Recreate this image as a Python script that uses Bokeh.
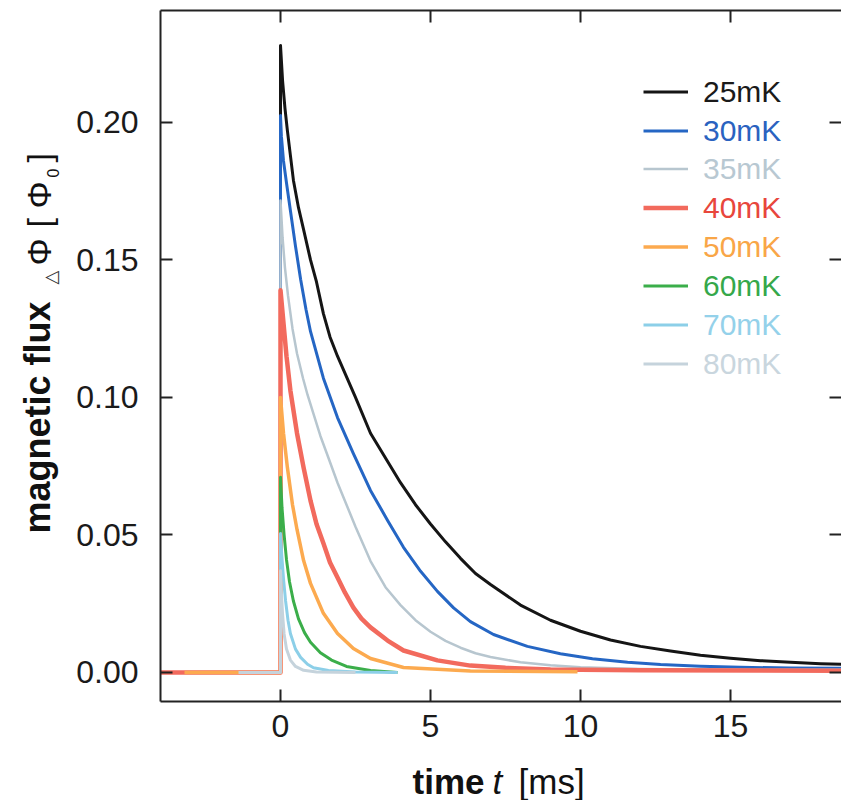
import numpy as np
from bokeh.plotting import figure
from bokeh.layouts import row, column
from bokeh.models import (Range1d, FixedTicker, LinearAxis, Legend, LegendItem,
                          Label, PrintfTickFormatter)
from bokeh.embed import file_html
from bokeh.resources import INLINE

# ---- flux response after the heat pulse, one trace per bath temperature ----
temps = ["25mK", "30mK", "35mK", "40mK", "50mK", "60mK", "70mK", "80mK"]

t_25 = [-4.0, 0.0, 0.0, 0.07, 0.15, 0.23, 0.33, 0.43, 0.6, 0.77, 1.0, 1.2, 1.43, 1.65, 1.9,
        2.5, 3.0, 3.5, 4.0, 4.5, 5.0, 5.5, 6.0, 6.5, 7.0, 8.0, 9.0, 10.0, 11.0, 12.0, 13.0,
        14.0, 15.0, 16.0, 17.0, 18.0, 18.7]
phi_25 = [0.0, 0.0, 0.228, 0.215, 0.205, 0.197, 0.188, 0.179, 0.169, 0.161, 0.150, 0.142,
          0.1305, 0.122, 0.115, 0.100, 0.087, 0.078, 0.069, 0.061, 0.054, 0.0475, 0.0415,
          0.036, 0.032, 0.0245, 0.019, 0.015, 0.0118, 0.0095, 0.0078, 0.0063, 0.0052,
          0.0043, 0.0037, 0.0032, 0.003]

t_30 = [-4.0, 0.0, 0.0, 0.03, 0.1, 0.2, 0.33, 0.5, 0.67, 0.85, 1.0, 1.43, 1.9, 2.43, 3.0,
        3.57, 4.1, 4.67, 5.23, 5.77, 6.33, 7.1, 8.23, 9.33, 10.4, 11.57, 12.67, 14.0, 15.33,
        17.0, 18.7]
phi_30 = [0.0, 0.0, 0.2025, 0.195, 0.186, 0.178, 0.168, 0.155, 0.143, 0.132, 0.124, 0.107,
          0.0927, 0.0796, 0.0662, 0.0553, 0.0455, 0.0368, 0.0295, 0.0235, 0.0185, 0.0138,
          0.0095, 0.0068, 0.005, 0.0037, 0.0029, 0.0023, 0.0019, 0.0016, 0.0015]

t_35 = [-4.0, 0.0, 0.0, 0.07, 0.15, 0.25, 0.4, 0.55, 0.75, 0.9, 1.1, 1.33, 1.6, 1.9, 2.2,
        2.5, 3.0, 3.5, 4.0, 4.5, 5.0, 5.5, 6.0, 6.5, 7.0, 8.0, 9.0, 10.0, 12.0, 15.0, 18.7]
phi_35 = [0.0, 0.0, 0.1716, 0.158, 0.147, 0.137, 0.125, 0.116, 0.107, 0.101, 0.094, 0.086,
          0.078, 0.069, 0.061, 0.053, 0.0405, 0.031, 0.0245, 0.019, 0.0148, 0.0115, 0.009,
          0.007, 0.0056, 0.0037, 0.0026, 0.0019, 0.0013, 0.001, 0.001]

t_40 = [-4.0, 0.0, 0.0, 0.1, 0.2, 0.33, 0.55, 0.77, 1.0, 1.2, 1.43, 1.65, 1.9, 2.15, 2.43,
        2.7, 3.0, 3.57, 4.1, 5.23, 6.33, 7.5, 9.0, 12.0, 18.7]
phi_40 = [0.0, 0.0, 0.139, 0.127, 0.115, 0.1025, 0.087, 0.0745, 0.0625, 0.054, 0.047, 0.040,
          0.0345, 0.029, 0.0236, 0.0196, 0.0164, 0.0116, 0.008, 0.0044, 0.0025, 0.0017,
          0.0011, 0.0008, 0.0006]

t_50 = [-3.2, 0.0, 0.0, 0.1, 0.23, 0.4, 0.55, 0.77, 1.0, 1.43, 1.9, 2.43, 3.0, 4.1, 6.33, 9.9]
phi_50 = [0.0, 0.0, 0.100, 0.087, 0.0745, 0.061, 0.052, 0.0407, 0.0324, 0.0215, 0.0142,
          0.0087, 0.0051, 0.0018, 0.0005, 0.0003]

t_60 = [0.0, 0.0, 0.05, 0.12, 0.2, 0.3, 0.43, 0.6, 0.8, 1.0, 1.33, 1.7, 2.2, 3.0, 3.9]
phi_60 = [0.0, 0.071, 0.060, 0.050, 0.041, 0.033, 0.026, 0.0195, 0.0145, 0.011, 0.0072,
          0.0045, 0.0022, 0.0007, 0.0]

t_70 = [0.0, 0.0, 0.04, 0.1, 0.17, 0.25, 0.33, 0.5, 0.67, 0.9, 1.1, 1.6, 2.5, 3.9]
phi_70 = [0.0, 0.0505, 0.043, 0.034, 0.026, 0.019, 0.0142, 0.0085, 0.0055, 0.003, 0.0017,
          0.0007, 0.0002, 0.0]

t_80 = [-1.4, 0.0, 0.0, 0.03, 0.07, 0.12, 0.2, 0.33, 0.5, 0.77, 1.2, 2.5]
phi_80 = [0.0, 0.0, 0.037, 0.029, 0.021, 0.014, 0.0085, 0.0045, 0.0022, 0.0008, 0.0002, 0.0]

times = [t_25, t_30, t_35, t_40, t_50, t_60, t_70, t_80]
fluxes = [phi_25, phi_30, phi_35, phi_40, phi_50, phi_60, phi_70, phi_80]

line_colors = ["#151515", "#2566c4", "#b7c6cf", "#f26a5d", "#fcaa4f", "#3bae4a", "#8ccfe8", "#c5d3dc"]
text_colors = ["#1a1a1a", "#2a62c0", "#b8c8d2", "#e8463c", "#f9a647", "#35a84a", "#94d1ea", "#c9d6de"]
line_widths = [3, 3, 2.5, 4.5, 3.5, 3, 3, 3]

x_ticks = [0, 5, 10, 15]
y_ticks = [0.0, 0.05, 0.10, 0.15, 0.20]

FONT = "Liberation Sans"
INK = "#222222"
TXT = "#111111"

# ---------------- main panel ----------------
p = figure(width=779, height=760, output_backend="svg", toolbar_location=None,
           x_range=Range1d(-4.0, 18.7), y_range=Range1d(-0.01055, 0.2407),
           x_axis_location=None, y_axis_location=None, align="start",
           min_border_left=98, min_border_right=0, min_border_top=10, min_border_bottom=59)
p.outline_line_color = None
p.xgrid.visible = False
p.ygrid.visible = False


def make_axis(ticks, show_labels, fmt=None, line=True):
    ax = LinearAxis(ticker=FixedTicker(ticks=ticks))
    ax.major_tick_in = 12
    ax.major_tick_out = 0
    ax.minor_tick_in = 0
    ax.minor_tick_out = 0
    ax.major_tick_line_width = 2
    ax.major_tick_line_color = INK
    ax.axis_line_width = 2
    ax.axis_line_color = INK if line else None
    if fmt is not None:
        ax.formatter = fmt
    if show_labels:
        ax.major_label_text_font = FONT
        ax.major_label_text_font_size = "32px"
        ax.major_label_text_color = "#1a1a1a"
    else:
        ax.major_label_text_font_size = "0px"
        ax.major_label_standoff = 0
    return ax


bottom = make_axis(x_ticks, True)
bottom.major_label_standoff = 13
left = make_axis(y_ticks, True, PrintfTickFormatter(format="%.2f"))
left.major_label_standoff = 22
top = make_axis(x_ticks, False)
right = make_axis(y_ticks, False, line=False)
p.add_layout(bottom, "below")
p.add_layout(left, "left")
p.add_layout(top, "above")
p.add_layout(right, "right")

# traces: lowest temperature first so warmer ones sit on top
renderers = []
for t, phi, c, w in zip(times, fluxes, line_colors, line_widths):
    r = p.line(t, phi, line_color=c, line_width=w, line_join="round")
    renderers.append(r)

# one small legend per trace so each label keeps its own colour
row_centres = [92, 131, 169, 208, 247, 286, 325, 364]
item_h = 33
for name, r, tc, yc in zip(temps, renderers, text_colors, row_centres):
    leg = Legend(items=[LegendItem(label=name, renderers=[r])],
                 location=(483, 701 - yc - item_h / 2),
                 border_line_color=None, background_fill_alpha=0,
                 padding=0, margin=0, spacing=0,
                 glyph_width=45, glyph_height=item_h, label_height=item_h,
                 label_standoff=15, label_text_font=FONT,
                 label_text_font_size="30px", label_text_color=tc)
    p.add_layout(leg)


def bare(width, height, y_range=None):
    f = figure(width=width, height=height, output_backend="svg", toolbar_location=None,
               x_range=Range1d(0, width), y_range=y_range or Range1d(0, height),
               x_axis_location=None, y_axis_location=None, min_border=0, align="start")
    f.outline_line_color = None
    f.xgrid.visible = False
    f.ygrid.visible = False
    return f


def mid(baseline, size):
    # centre of the text box sits about 0.35 em above the baseline
    return baseline - 0.35 * size


# ---------------- y-axis title strip (text reads upward) ----------------
# the strip's frame lines up with the main frame (page y 10..701), so its
# range is chosen to keep   data y = 760 - page y
ylab = bare(62, 760, y_range=Range1d(760 - 701, 760 - 10))
ang = np.pi / 2
ylab.add_layout(Label(x=mid(50, 36), y=760 - 533, text="magnetic flux", angle=ang,
                      text_font=FONT, text_font_size="36px", text_font_style="bold",
                      text_color=TXT, text_baseline="middle"))
ylab.add_layout(Label(x=mid(56, 18), y=760 - 284, text="\u25b3", angle=ang,
                      text_font="DejaVu Sans", text_font_size="18px", text_color="#333333",
                      text_baseline="middle"))
for txt, yp in [("\u03a6", 265), ("[", 227), ("\u03a6", 208), ("]", 162)]:
    ylab.add_layout(Label(x=mid(50, 34), y=760 - yp, text=txt, angle=ang, text_font=FONT,
                          text_font_size="34px", text_color=TXT, text_baseline="middle"))
ylab.add_layout(Label(x=mid(58, 16), y=760 - 177, text="0", angle=ang, text_font=FONT,
                      text_font_size="16px", text_color=TXT, text_baseline="middle"))

# ---------------- x-axis title strip, full page width, page y 760..800 ----------------
xlab = bare(841, 40)
yb = 800 - mid(793, 35)
xlab.add_layout(Label(x=412, y=yb, text="time", text_font=FONT, text_font_size="35px",
                      text_font_style="bold", text_color=TXT, text_baseline="middle"))
xlab.add_layout(Label(x=492, y=yb, text="t", text_font=FONT, text_font_size="35px",
                      text_font_style="italic", text_color=TXT, text_baseline="middle"))
xlab.add_layout(Label(x=518, y=yb, text="[ms]", text_font=FONT, text_font_size="35px",
                      text_color=TXT, text_baseline="middle"))

layout = column(row(ylab, p, spacing=0, align="start"), xlab, spacing=0)

open("out.html", "w").write(file_html(layout, INLINE))
